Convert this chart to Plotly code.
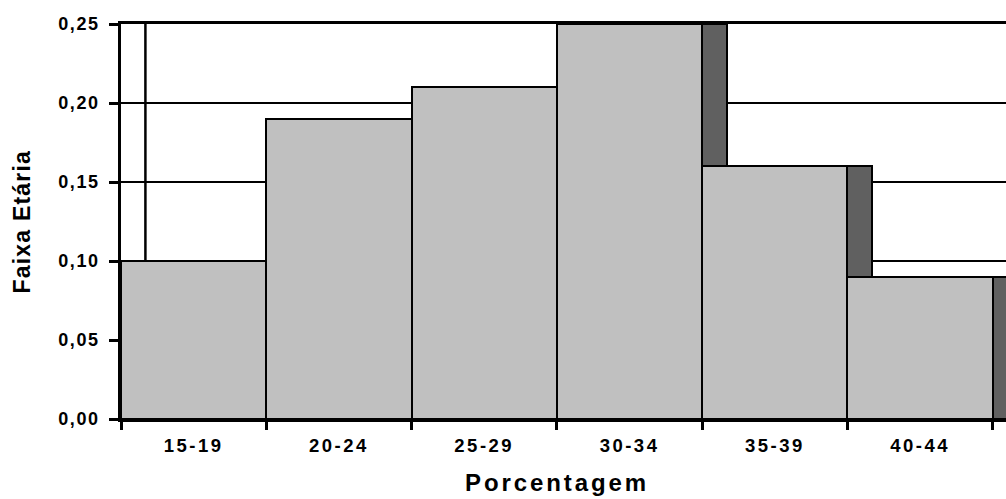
import plotly.graph_objects as go

# Age groups and their shares
categories = ["15-19", "20-24", "25-29", "30-34", "35-39", "40-44"]
values = [0.10, 0.19, 0.21, 0.25, 0.16, 0.09]

y_tick_values = [0.00, 0.05, 0.10, 0.15, 0.20, 0.25]
y_tick_labels = ["0,00", "0,05", "0,10", "0,15", "0,20", "0,25"]

x_title = "Porcentagem"
y_title = "Faixa Etária"

FONT = "Liberation Sans"
FACE = "#C0C0C0"
SIDE = "#606060"
DEPTH = 0.168          # width of the shaded side face, in category units
X_END = 5.591          # right end of the visible category range


def spaced(text, px):
    return f'<span style="letter-spacing:{px}px">{text}</span>'


fig = go.Figure()

# shaded side faces, drawn first so the next column covers their lower part
fig.add_trace(go.Bar(
    x=categories, y=values, width=DEPTH, offset=0.5,
    marker=dict(color=SIDE, line=dict(color="black", width=2)),
    showlegend=False, hoverinfo="skip",
))

# front faces of the columns
fig.add_trace(go.Bar(
    x=categories, y=values, width=1.0,
    marker=dict(color=FACE, line=dict(color="black", width=2)),
    showlegend=False,
))

# edge of the side face at the left wall
fig.add_shape(
    type="line", xref="x", yref="y",
    x0=-0.5 + DEPTH, x1=-0.5 + DEPTH, y0=0, y1=y_tick_values[-1],
    line=dict(color="black", width=2.5), layer="below",
)

fig.update_layout(
    width=1006, height=499,
    margin=dict(l=121, r=0, t=24, b=80),
    paper_bgcolor="white", plot_bgcolor="white",
    barmode="overlay", bargap=0,
    font=dict(family=FONT, color="black"),
    xaxis=dict(
        type="category", range=[-0.5, X_END],
        tickmode="array", tickvals=categories,
        ticktext=[spaced(c, 2.5) for c in categories],
        tickson="boundaries", ticks="outside", ticklen=8, tickwidth=2.5,
        tickcolor="black", showgrid=False,
        showline=True, linecolor="black", linewidth=3, mirror=True,
        tickfont=dict(family=FONT, size=18.5, weight="bold"),
        ticklabelstandoff=8,
    ),
    yaxis=dict(
        range=[0, 0.25], tickmode="array", tickvals=y_tick_values,
        ticktext=[spaced(t, 1.6) for t in y_tick_labels],
        ticks="outside", ticklen=9, tickwidth=2.5, tickcolor="black",
        showgrid=True, gridcolor="black", gridwidth=2,
        zeroline=False, showline=True, linecolor="black", linewidth=2.5,
        tickfont=dict(family=FONT, size=18, weight="bold"),
        ticklabelstandoff=6,
    ),
    annotations=[
        dict(text=spaced(x_title, 2.9), xref="x", yref="paper",
             x=2.5, y=-0.162, xanchor="center", yanchor="middle",
             showarrow=False,
             font=dict(family=FONT, size=24, weight="bold", color="black")),
        dict(text=spaced(y_title, 1.2), xref="paper", yref="paper",
             x=-0.1119, y=0.5, xanchor="center", yanchor="middle",
             textangle=-90, showarrow=False,
             font=dict(family=FONT, size=23, weight="bold", color="black")),
    ],
)

fig.write_html("out.html")
